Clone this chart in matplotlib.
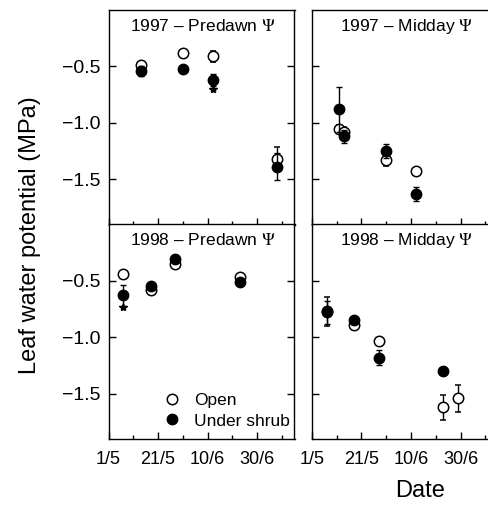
import matplotlib.pyplot as plt
from matplotlib.lines import Line2D
from matplotlib.ticker import FixedLocator

plt.rcParams['font.family'] = ['Liberation Sans', 'DejaVu Sans']
plt.rcParams['mathtext.fontset'] = 'stix'

# x in days counted from 1 May
tick_days = [0, 20, 40, 60]
minor_days = [10, 30, 50, 70]
tick_labels = ["1/5", "21/5", "10/6", "30/6"]
y_ticks = [-0.5, -1.0, -1.5]
y_labels = ["\u22120.5", "\u22121.0", "\u22121.5"]

# 1997 - predawn
pd97_open_days = [13, 30, 42, 68]
pd97_open = [-0.49, -0.38, -0.41, -1.32]
pd97_open_err = [0.02, 0.0, 0.05, 0.11]
pd97_shrub_days = [13, 30, 42, 68]
pd97_shrub = [-0.54, -0.52, -0.62, -1.39]
pd97_shrub_err = [0.045, 0.0, 0.05, 0.12]
pd97_star_days = [42]
pd97_star = [-0.70]

# 1997 - midday
md97_open_days = [11, 13, 30, 42]
md97_open = [-1.05, -1.08, -1.33, -1.43]
md97_open_err = [0.03, 0.04, 0.05, 0.0]
md97_shrub_days = [11, 13, 30, 42]
md97_shrub = [-0.88, -1.12, -1.25, -1.63]
md97_shrub_err = [0.2, 0.06, 0.06, 0.065]

# 1998 - predawn
pd98_open_days = [6, 17, 27, 53]
pd98_open = [-0.44, -0.58, -0.35, -0.47]
pd98_open_err = [0.0, 0.02, 0.02, 0.02]
pd98_shrub_days = [6, 17, 27, 53]
pd98_shrub = [-0.63, -0.55, -0.31, -0.51]
pd98_shrub_err = [0.09, 0.02, 0.02, 0.02]
pd98_star_days = [6]
pd98_star = [-0.73]

# 1998 - midday
md98_open_days = [6, 17, 27, 53, 59]
md98_open = [-0.77, -0.89, -1.03, -1.62, -1.54]
md98_open_err = [0.13, 0.02, 0.0, 0.11, 0.12]
md98_shrub_days = [6, 17, 27, 53]
md98_shrub = [-0.78, -0.85, -1.18, -1.30]
md98_shrub_err = [0.1, 0.03, 0.07, 0.0]

panels = [
    ("1997 \u2013 Predawn $\\Psi$", pd97_open_days, pd97_open, pd97_open_err,
     pd97_shrub_days, pd97_shrub, pd97_shrub_err, pd97_star_days, pd97_star),
    ("1997 \u2013 Midday $\\Psi$", md97_open_days, md97_open, md97_open_err,
     md97_shrub_days, md97_shrub, md97_shrub_err, [], []),
    ("1998 \u2013 Predawn $\\Psi$", pd98_open_days, pd98_open, pd98_open_err,
     pd98_shrub_days, pd98_shrub, pd98_shrub_err, pd98_star_days, pd98_star),
    ("1998 \u2013 Midday $\\Psi$", md98_open_days, md98_open, md98_open_err,
     md98_shrub_days, md98_shrub, md98_shrub_err, [], []),
]

fig = plt.figure(figsize=(4.88, 5.08), dpi=100)
W, H = 488, 508
lefts = [108.5, 311.7]
tops = [10, 224.3]
pw, ph = 186, 214.5

for i, (title, od, ov, oe, sd, sv, se, std, stv) in enumerate(panels):
    col, row = i % 2, i // 2
    ax = fig.add_axes([lefts[col] / W, 1 - (tops[row] + ph) / H, pw / W, ph / H])

    ax.errorbar(od, ov, yerr=oe, fmt='o', mfc='white', mec='black', mew=1.1,
                ms=7.5, ecolor='black', elinewidth=1, capsize=2.5, zorder=3)
    ax.errorbar(sd, sv, yerr=se, fmt='o', mfc='black', mec='black',
                ms=7.5, ecolor='black', elinewidth=1, capsize=2.5, zorder=4)
    if std:
        ax.plot(std, stv, '*', color='black', ms=6, zorder=5)

    ax.set_xlim(0, 75)
    ax.set_ylim(-1.9, 0.0)
    ax.xaxis.set_major_locator(FixedLocator(tick_days))
    ax.xaxis.set_minor_locator(FixedLocator(minor_days))
    ax.set_yticks(y_ticks)
    ax.tick_params(axis='both', which='both', direction='in', width=1)
    ax.tick_params(axis='x', which='major', length=5, pad=9, labelsize=13)
    ax.tick_params(axis='x', which='minor', length=3)
    ax.tick_params(axis='y', length=5, right=True, pad=6, labelsize=14)
    if row == 1:
        ax.set_xticklabels(tick_labels)
    else:
        ax.set_xticklabels([])
    if col == 0:
        ax.set_yticklabels(y_labels)
    else:
        ax.set_yticklabels([])
    for s in ax.spines.values():
        s.set_linewidth(1)

    ax.text(0.51, 0.925, title, transform=ax.transAxes, ha='center', va='center',
            fontsize=12.5)

    if i == 2:
        handles = [
            Line2D([], [], marker='o', ls='none', mfc='white', mec='black', mew=1.1, ms=7.5),
            Line2D([], [], marker='o', ls='none', mfc='black', mec='black', ms=7.5),
        ]
        ax.legend(handles, ["Open", "Under shrub"], loc='lower left',
                  bbox_to_anchor=(0.2, -0.025), frameon=False, fontsize=12.5,
                  handletextpad=0.7, labelspacing=0.3, handlelength=1.2)

fig.text(30 / W, 1 - 235 / H, "Leaf water potential (MPa)", rotation=90,
         ha='center', va='center', fontsize=17)
fig.text(420 / W, 1 - 491 / H, "Date", ha='center', va='center', fontsize=17)

fig.savefig("out.png", dpi=100)
